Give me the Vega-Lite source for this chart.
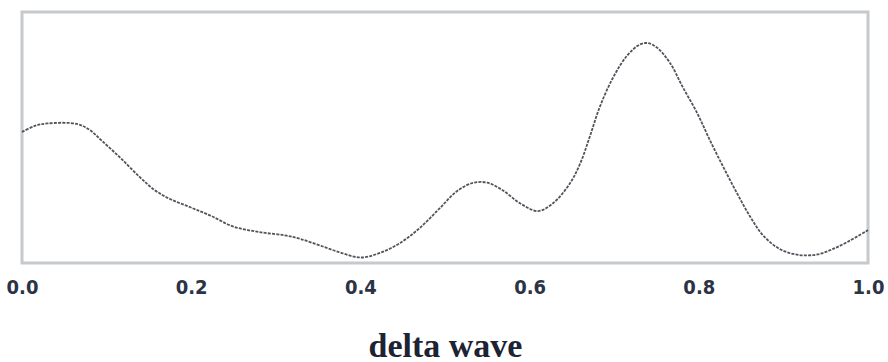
{
  "$schema": "https://vega.github.io/schema/vega-lite/v6.json",
  "autosize": "none",
  "width": 846,
  "height": 251,
  "padding": {"left": 22, "top": 12, "right": 20, "bottom": 99},
  "background": "white",
  "config": {
    "view": {"stroke": "#c6cacd", "strokeWidth": 3}
  },
  "data": {
    "values": [
      {"x": 0.0, "y": 0.522},
      {"x": 0.015, "y": 0.546},
      {"x": 0.03, "y": 0.556},
      {"x": 0.065, "y": 0.554},
      {"x": 0.08, "y": 0.53},
      {"x": 0.095, "y": 0.485},
      {"x": 0.116, "y": 0.42},
      {"x": 0.139, "y": 0.343},
      {"x": 0.157, "y": 0.29},
      {"x": 0.175, "y": 0.255},
      {"x": 0.199, "y": 0.222},
      {"x": 0.222, "y": 0.19},
      {"x": 0.25, "y": 0.145},
      {"x": 0.281, "y": 0.123},
      {"x": 0.311, "y": 0.11},
      {"x": 0.329, "y": 0.096},
      {"x": 0.352, "y": 0.07},
      {"x": 0.376, "y": 0.042},
      {"x": 0.4, "y": 0.022},
      {"x": 0.423, "y": 0.04},
      {"x": 0.447, "y": 0.08},
      {"x": 0.47, "y": 0.139},
      {"x": 0.494, "y": 0.219},
      {"x": 0.514, "y": 0.286},
      {"x": 0.533, "y": 0.319},
      {"x": 0.55, "y": 0.32},
      {"x": 0.568, "y": 0.29},
      {"x": 0.59, "y": 0.235},
      {"x": 0.61, "y": 0.207},
      {"x": 0.628, "y": 0.239},
      {"x": 0.648, "y": 0.319},
      {"x": 0.66, "y": 0.398},
      {"x": 0.671, "y": 0.502},
      {"x": 0.683, "y": 0.622},
      {"x": 0.699, "y": 0.741},
      {"x": 0.715, "y": 0.825},
      {"x": 0.73, "y": 0.87},
      {"x": 0.74, "y": 0.876},
      {"x": 0.751, "y": 0.857},
      {"x": 0.766, "y": 0.797},
      {"x": 0.781, "y": 0.701},
      {"x": 0.798, "y": 0.598},
      {"x": 0.813, "y": 0.49},
      {"x": 0.829, "y": 0.382},
      {"x": 0.845, "y": 0.279},
      {"x": 0.861, "y": 0.183},
      {"x": 0.876, "y": 0.11},
      {"x": 0.896, "y": 0.055},
      {"x": 0.918, "y": 0.032},
      {"x": 0.94, "y": 0.034},
      {"x": 0.958, "y": 0.055},
      {"x": 0.978, "y": 0.088},
      {"x": 1.0, "y": 0.131}
    ]
  },
  "mark": {"type": "line", "interpolate": "catmull-rom", "color": "#50555c", "strokeWidth": 1.8, "strokeDash": [3, 1.2]},
  "encoding": {
    "x": {
      "field": "x",
      "type": "quantitative",
      "scale": {"domain": [0, 1], "nice": false, "zero": false},
      "axis": {
        "values": [0, 0.2, 0.4, 0.6, 0.8, 1.0],
        "format": ".1f",
        "domain": false,
        "ticks": false,
        "grid": false,
        "labelFont": "DejaVu Sans Condensed",
        "labelFontWeight": "bold",
        "labelFontSize": 20,
        "labelColor": "#2b3345",
        "labelPadding": 14,
        "labelFlush": false,
        "title": "delta wave",
        "titleFont": "Liberation Serif, serif",
        "titleFontWeight": "bold",
        "titleFontSize": 34,
        "titleColor": "#1c2333",
        "titlePadding": 32
      }
    },
    "y": {
      "field": "y",
      "type": "quantitative",
      "scale": {"domain": [0, 1], "nice": false, "zero": false},
      "axis": null
    }
  }
}
